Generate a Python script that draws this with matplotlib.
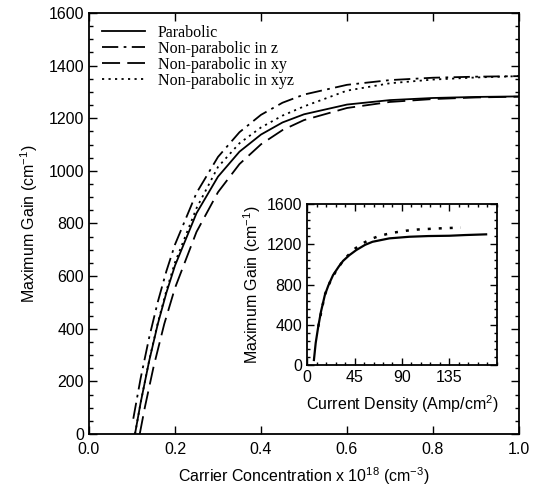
import numpy as np
import matplotlib
matplotlib.use('Agg')
import matplotlib.pyplot as plt
from matplotlib.ticker import MultipleLocator

plt.rcParams['font.family'] = ['Liberation Sans', 'DejaVu Sans']
plt.rcParams['mathtext.default'] = 'regular'

# main panel: maximum gain vs carrier concentration (x 1e18 cm^-3)
conc_parabolic = [0.107, 0.12, 0.14, 0.16, 0.18, 0.20, 0.25, 0.30, 0.35, 0.40, 0.45, 0.50, 0.60, 0.70, 0.80, 0.90, 1.00]
gain_parabolic = [0, 118, 278, 418, 537, 640, 839, 978, 1073, 1138, 1184, 1215, 1252, 1269, 1277, 1281, 1283]

conc_z = [0.103, 0.12, 0.14, 0.16, 0.18, 0.20, 0.25, 0.30, 0.35, 0.40, 0.45, 0.50, 0.60, 0.70, 0.80, 0.90, 1.00]
gain_z = [58, 211, 367, 502, 619, 720, 916, 1053, 1147, 1213, 1259, 1290, 1327, 1345, 1354, 1358, 1360]

conc_xy = [0.118, 0.13, 0.15, 0.175, 0.20, 0.25, 0.30, 0.35, 0.40, 0.45, 0.50, 0.60, 0.70, 0.80, 0.90, 1.00]
gain_xy = [0, 102, 254, 418, 555, 768, 919, 1026, 1101, 1155, 1193, 1239, 1262, 1273, 1279, 1282]

conc_xyz = [0.107, 0.12, 0.14, 0.16, 0.18, 0.20, 0.25, 0.30, 0.35, 0.40, 0.45, 0.50, 0.60, 0.70, 0.80, 0.90, 1.00]
gain_xyz = [0, 118, 280, 422, 545, 652, 858, 1015, 1105, 1165, 1210, 1245, 1305, 1333, 1347, 1355, 1360]

# inset: maximum gain vs current density (Amp/cm^2)
j_solid = [6.3, 8, 10.4, 13, 16.7, 20, 24.5, 30, 34, 40, 46.6, 55, 62, 78, 97, 115, 135, 150, 170]
g_solid = [50, 220, 381, 530, 696, 790, 894, 980, 1035, 1092, 1143, 1195, 1225, 1259, 1275, 1282, 1285, 1292, 1299]

j_dot = [10.4, 16.7, 22, 26, 30.2, 34, 38.7, 45, 52.8, 60, 67, 75, 82.7, 93.8, 105, 119, 132, 146]
g_dot = [381, 700, 835, 910, 980, 1035, 1090, 1155, 1210, 1250, 1278, 1300, 1317, 1335, 1347, 1355, 1361, 1366]

fig = plt.figure(figsize=(5.41, 4.96), dpi=100)
ax = fig.add_axes([0.1645, 0.125, 0.7948, 0.8488])

ax.plot(conc_parabolic, gain_parabolic, color='black', lw=1.3, ls='-', label='Parabolic')
ax.plot(conc_z, gain_z, color='black', lw=1.3, ls=(0, (9, 3, 1.5, 3)), label='Non-parabolic in z')
ax.plot(conc_xy, gain_xy, color='black', lw=1.3, ls=(0, (10, 4)), label='Non-parabolic in xy')
ax.plot(conc_xyz, gain_xyz, color='black', lw=1.3, ls=(0, (1.2, 2.4)), label='Non-parabolic in xyz')

ax.set_xlim(0, 1.0)
ax.set_ylim(0, 1600)
ax.xaxis.set_major_locator(MultipleLocator(0.2))
ax.yaxis.set_major_locator(MultipleLocator(200))
ax.yaxis.set_minor_locator(MultipleLocator(50))
ax.xaxis.set_major_formatter(matplotlib.ticker.FormatStrFormatter('%.1f'))
ax.tick_params(which='both', direction='in', top=True, right=True, labelsize=11.5, width=1.0)
ax.tick_params(which='major', length=6)
ax.tick_params(which='minor', length=3)
ax.tick_params(axis='x', pad=6)
for s in ax.spines.values():
    s.set_linewidth(1.3)
ax.set_xlabel(r'Carrier Concentration x 10$^{18}$ (cm$^{-3}$)', fontsize=11.5, labelpad=6)
ax.set_ylabel(r'Maximum Gain (cm$^{-1}$)', fontsize=11.5, labelpad=6)

ax.legend(loc='upper left', bbox_to_anchor=(0.03, 0.972), frameon=False,
          prop={'family': 'Liberation Serif', 'size': 11.5},
          handlelength=2.7, handletextpad=0.8, labelspacing=0.0,
          borderpad=0, borderaxespad=0)

ins = fig.add_axes([0.568, 0.264, 0.350, 0.3246])
ins.plot(j_solid, g_solid, color='black', lw=1.6, ls='-')
ins.plot(j_dot, g_dot, color='black', lw=1.8, ls=(0, (1.2, 3.2)))
ins.set_xlim(0, 180)
ins.set_ylim(0, 1600)
ins.set_xticks([0, 45, 90, 135])
ins.xaxis.set_minor_locator(MultipleLocator(9))
ins.yaxis.set_major_locator(MultipleLocator(400))
ins.yaxis.set_minor_locator(MultipleLocator(80))
ins.tick_params(which='both', direction='in', top=True, right=True, labelsize=11.5, width=1.0)
ins.tick_params(which='major', length=5)
ins.tick_params(which='minor', length=2.5)
for s in ins.spines.values():
    s.set_linewidth(1.3)
ins.set_xlabel(r'Current Density (Amp/cm$^2$)', fontsize=11.5, labelpad=6)
ins.set_ylabel(r'Maximum Gain (cm$^{-1}$)', fontsize=11.5, labelpad=3)

fig.savefig('out.png', dpi=100)
